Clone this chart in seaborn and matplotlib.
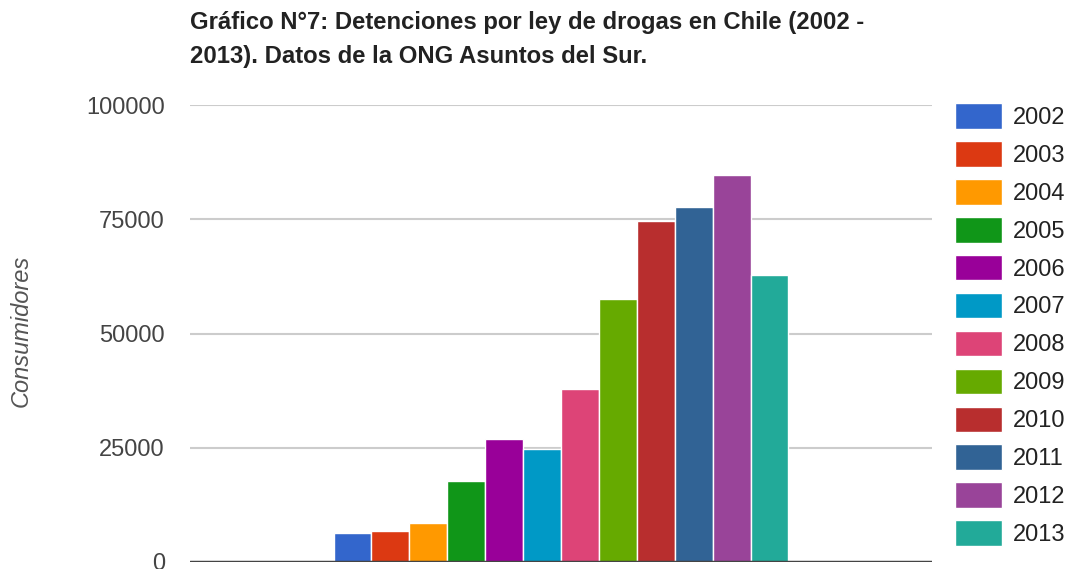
import matplotlib.pyplot as plt
import matplotlib.patches as mpatches
import seaborn as sns
import pandas as pd

# datos
anios = ["2002", "2003", "2004", "2005", "2006", "2007",
         "2008", "2009", "2010", "2011", "2012", "2013"]
detenciones = [6400, 6800, 8600, 17800, 27000, 24800,
               37800, 57600, 74700, 77600, 84700, 62900]
colores = ["#3366cc", "#dc3912", "#ff9900", "#109618", "#990099", "#0099c6",
           "#dd4477", "#66aa00", "#b82e2e", "#316395", "#994499", "#22aa99"]
yticks = [0, 25000, 50000, 75000, 100000]

df = pd.DataFrame({"grupo": ["Chile"] * len(anios), "anio": anios, "valor": detenciones})

sns.set_style("white")
plt.rcParams["font.family"] = ["Liberation Sans", "DejaVu Sans"]

fig = plt.figure(figsize=(10.79, 5.69), dpi=100)
ax = fig.add_axes([190 / 1079, 7 / 569, 742 / 1079, 457 / 569])

sns.barplot(data=df, x="grupo", y="valor", hue="anio", hue_order=anios,
            palette=colores, saturation=1, width=0.613, gap=0, edgecolor="white",
            linewidth=1, legend=False, ax=ax, zorder=3)

ax.set_ylim(0, 100000)
ax.set_xlim(-0.5, 0.5)
ax.set_yticks(yticks)
ax.set_yticklabels([str(t) for t in yticks])
ax.tick_params(axis="y", length=0, pad=18, labelsize=17, labelcolor="#444444")
ax.set_xticks([])
ax.set_xlabel("")
ax.set_ylabel("Consumidores", fontsize=17, style="italic", color="#555555")
ax.yaxis.set_label_coords((33 - 190) / 742, 0.505)

for t in yticks[1:]:
    ax.axhline(t, color="#cccccc", lw=1.5, zorder=1)
ax.axhline(0, color="#444444", lw=2.5, zorder=4)
for s in ax.spines.values():
    s.set_visible(False)

handles = [mpatches.Patch(facecolor=c, edgecolor="white", label=a) for a, c in zip(anios, colores)]
fig.legend(handles=handles, loc="upper left", bbox_to_anchor=(955 / 1079, 1 - 103 / 569),
           frameon=False, fontsize=17, handlelength=2.0, handleheight=1.3,
           labelspacing=0.515, handletextpad=0.45, borderpad=0, borderaxespad=0,
           labelcolor="#222222")

fig.text(190 / 1079, 1 - 11 / 569,
         "Gráfico N°7: Detenciones por ley de drogas en Chile (2002 -\n2013). Datos de la ONG Asuntos del Sur.",
         fontsize=17.2, fontweight="bold", color="#222222", ha="left", va="top",
         linespacing=1.6)

fig.savefig("out.png", dpi=100)
